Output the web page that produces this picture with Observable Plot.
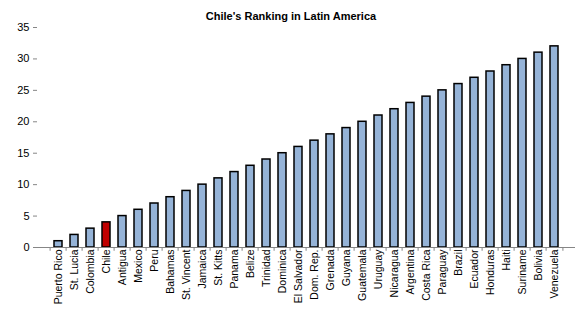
<!DOCTYPE html>
<html>
<head>
<meta charset="utf-8">
<script src="https://cdn.jsdelivr.net/npm/d3@7"></script>
<script src="https://cdn.jsdelivr.net/npm/@observablehq/plot@0.6"></script>
<style>
  html, body { margin: 0; padding: 0; background: #fff; }
  #chart { width: 581px; height: 318px; }
  svg { font-family: "Liberation Sans", Arial, sans-serif; }
</style>
</head>
<body>
<div id="chart"></div>
<script>
const title = "Chile's Ranking in Latin America";
const countries = ["Puerto Rico","St. Lucia","Colombia","Chile","Antigua","Mexico","Peru","Bahamas","St. Vincent","Jamaica","St. Kitts","Panama","Belize","Trinidad","Dominica","El Salvador","Dom. Rep.","Grenada","Guyana","Guatemala","Uruguay","Nicaragua","Argentina","Costa Rica","Paraguay","Brazil","Ecuador","Honduras","Haiti","Suriname","Bolivia","Venezuela"];
const ranks = [1,2,3,4,5,6,7,8,9,10,11,12,13,14,15,16,17,18,19,20,21,22,23,24,25,26,27,28,29,30,31,32];
const highlight = "Chile";
const yTicks = [0,5,10,15,20,25,30,35];

const data = countries.map((c, i) => ({country: c, rank: ranks[i]}));

const W = 581, H = 318, mL = 37, mR = 6, mT = 27, mB = 71;
const step = (W - mL - mR) / countries.length;
const titleShift = W / 2 - (mL + (W - mL - mR) / 2);

const chart = Plot.plot({
  width: W,
  height: H,
  marginLeft: mL,
  marginRight: mR,
  marginTop: mT,
  marginBottom: mB,
  style: {fontFamily: "'Liberation Sans', Arial, sans-serif", fontSize: "11px", color: "#000", background: "#fff"},
  x: {domain: countries, padding: 0.5, align: 0.5, label: null},
  y: {domain: [0, 35], label: null},
  marks: [
    Plot.barY(data, {x: "country", y: "rank", fill: d => d.country === highlight ? "#C00000" : "#95B3D7", stroke: "#000", strokeWidth: 1.5}),
    Plot.ruleY([0], {stroke: "#868686", strokeWidth: 1}),
    Plot.ruleX([0], {frameAnchor: "left", y1: 0, y2: 35, stroke: "#868686", strokeWidth: 1}),
    Plot.axisY({ticks: yTicks, tickSize: 4, tickPadding: 4, stroke: "#868686", fill: "#000", label: null, fontSize: 11}),
    Plot.axisX({tickSize: 0, tickPadding: 2, tickRotate: -90, label: null, fontSize: 10.5, fill: "#000"}),
    Plot.ruleX(countries, {x: d => d, dx: -step / 2, y1: 0, y2: -0.6, stroke: "#868686"}),
    Plot.ruleX([countries[countries.length - 1]], {x: d => d, dx: step / 2, y1: 0, y2: -0.6, stroke: "#868686"}),
    Plot.text([title], {frameAnchor: "top", dx: titleShift, dy: -15, fontWeight: "bold", fontSize: 11, fill: "#000"})
  ]
});
document.getElementById("chart").appendChild(chart);
</script>
</body>
</html>
